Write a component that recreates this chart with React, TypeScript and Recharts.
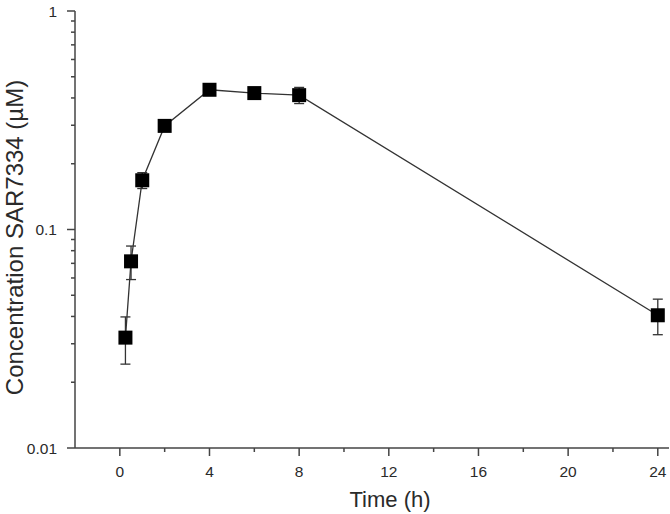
import React from "react";
import { LineChart, Line, XAxis, YAxis, ErrorBar, Label } from "recharts";

// sampling times (h)
const times = [0.25, 0.5, 1, 2, 4, 6, 8, 24];
// mean plasma concentration (µM)
const conc = [0.032, 0.0715, 0.168, 0.298, 0.436, 0.421, 0.412, 0.0405];
// standard deviation (µM)
const sd = [0.0078, 0.0125, 0.014, 0.012, 0.012, 0.012, 0.035, 0.0075];

const xTicks = [0, 2, 4, 6, 8, 10, 12, 14, 16, 18, 20, 22, 24];
const yTicks = [
  0.01, 0.02, 0.03, 0.04, 0.05, 0.06, 0.07, 0.08, 0.09,
  0.1, 0.2, 0.3, 0.4, 0.5, 0.6, 0.7, 0.8, 0.9, 1,
];

const data = times.map((t, i) => ({ time: t, conc: conc[i], sd: sd[i] }));

const AXIS = "#444";
const TEXT = "#2a2a2a";
const FONT = "'Liberation Sans', Arial, sans-serif";

const isDecade = (v: number) => Math.abs(Math.log10(v) - Math.round(Math.log10(v))) < 1e-6;

const YTick = (props: any) => {
  const x = Number(props.x);
  const y = Number(props.y);
  const v = props.payload.value as number;
  const major = isDecade(v);
  return (
    <g>
      <line x1={x} x2={x - (major ? 8 : 4)} y1={y} y2={y} stroke={AXIS} strokeWidth={1.5} />
      {major && (
        <text x={x - 18} y={y + 5.5} textAnchor="end" fontSize={15.5} fill={TEXT} fontFamily={FONT}>
          {String(v)}
        </text>
      )}
    </g>
  );
};

const XTick = (props: any) => {
  const x = Number(props.x);
  const y = Number(props.y);
  const v = props.payload.value as number;
  const major = v % 4 === 0;
  return (
    <g>
      <line x1={x} x2={x} y1={y} y2={y + (major ? 8 : 4)} stroke={AXIS} strokeWidth={1.5} />
      {major && (
        <text x={x} y={y + 29} textAnchor="middle" fontSize={15.5} fill={TEXT} fontFamily={FONT}>
          {String(v)}
        </text>
      )}
    </g>
  );
};

const SquareDot = (props: any) => {
  const { cx, cy, index } = props;
  return <rect key={`sq-${index}`} x={cx - 7} y={cy - 7} width={14} height={14} fill="#000" />;
};

export default function App() {
  return (
    <div style={{ position: "absolute", left: 0, top: 0, background: "#fff" }}>
      <LineChart width={670} height={514} data={data} margin={{ top: 11, right: 1, bottom: 0, left: 0 }}>
        <XAxis
          dataKey="time"
          type="number"
          domain={[-2, 24.5]}
          ticks={xTicks}
          height={66}
          tickSize={0}
          tickMargin={0}
          tickLine={false}
          tick={<XTick />}
          interval={0}
          stroke={AXIS}
          strokeWidth={1.5}
        >
          <Label
            content={({ viewBox }: any) => (
              <text
                x={viewBox.x + viewBox.width / 2 + 18}
                y={viewBox.y + 59}
                textAnchor="middle"
                fontSize={22}
                fill={TEXT}
                fontFamily={FONT}
              >
                Time (h)
              </text>
            )}
          />
        </XAxis>
        <YAxis
          scale="log"
          domain={[0.01, 1]}
          ticks={yTicks}
          width={75}
          tickSize={0}
          tickMargin={0}
          tickLine={false}
          tick={<YTick />}
          interval={0}
          stroke={AXIS}
          strokeWidth={1.5}
        >
          <Label
            content={({ viewBox }: any) => {
              const cy = viewBox.y + viewBox.height / 2 + 8;
              return (
                <text
                  x={23}
                  y={cy}
                  transform={`rotate(-90 23 ${cy})`}
                  textAnchor="middle"
                  fontSize={24}
                  fill={TEXT}
                  fontFamily={FONT}
                >
                  Concentration SAR7334 (µM)
                </text>
              );
            }}
          />
        </YAxis>
        <Line
          dataKey="conc"
          stroke="#333"
          strokeWidth={1.3}
          dot={<SquareDot />}
          activeDot={false}
          isAnimationActive={false}
        >
          <ErrorBar dataKey="sd" direction="y" width={5} stroke="#333" strokeWidth={1.3} />
        </Line>
      </LineChart>
    </div>
  );
}
